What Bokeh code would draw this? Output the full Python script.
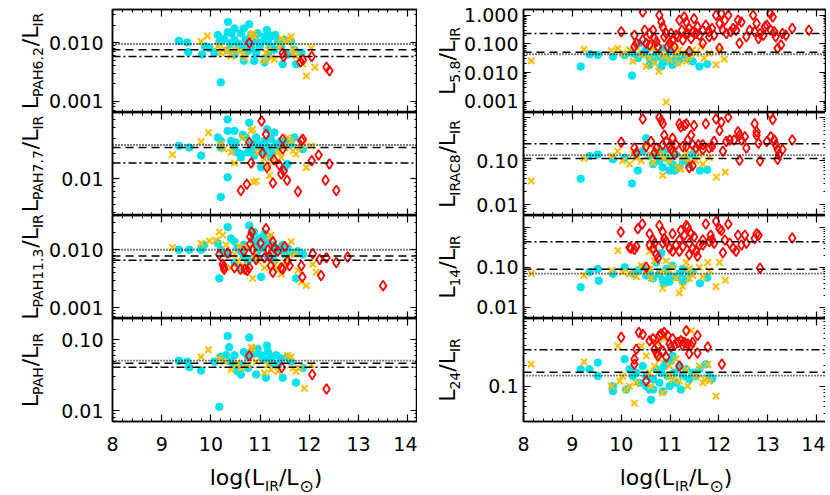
import json
from bokeh.plotting import figure
from bokeh.layouts import row, column
from bokeh.models import (Label, Span, LinearAxis, LogAxis, FixedTicker,
                          CustomJSTickFormatter, Range1d)
from bokeh.embed import file_html
from bokeh.resources import INLINE

# ---------------- data (x = log(L_IR/Lsun), y = ratio) ----------------
# colours: cyan = star-forming, gold = composite, red = AGN
pah62_cyan = [(9.35,0.0108),(9.52,0.0101),(9.54,0.0069),(9.82,0.0063),(9.88,0.0087),(10.14,0.0136),(10.17,0.0101),(10.27,0.0115),(10.35,0.0227),(10.34,0.0151),(10.42,0.0145),(10.48,0.0175),(10.48,0.0112),(10.56,0.0096),(10.61,0.0145),(10.67,0.0175),(10.78,0.0207),(10.82,0.0136),(10.85,0.0105),(10.90,0.0120),(10.95,0.0145),(11.01,0.0099),(11.09,0.0127),(11.14,0.0165),(11.16,0.0105),(11.24,0.0131),(11.31,0.0136),(11.36,0.0105),(11.43,0.0087),(11.51,0.0112),(11.63,0.0105),(11.70,0.0076),(11.84,0.0067),(11.73,0.0043),(11.46,0.0043),(11.09,0.0046),(10.88,0.0049),(10.67,0.0049),(10.48,0.0063),(10.20,0.0021),(10.75,0.0072),(10.92,0.0067),(11.16,0.0063),(11.29,0.0076),(10.54,0.0076),(10.65,0.0081),(10.71,0.0112),(10.41,0.0099),(10.34,0.0076),(10.07,0.0067),(9.97,0.0081),(11.56,0.0063),(11.22,0.0087),(10.99,0.0087),(10.82,0.0081)]
pah62_gold = [(9.80,0.0105),(9.93,0.0131),(10.14,0.0087),(10.20,0.0067),(10.27,0.0078),(10.34,0.0072),(10.41,0.0059),(10.48,0.0076),(10.58,0.0072),(10.65,0.0063),(10.69,0.0055),(10.82,0.0136),(10.85,0.0145),(10.88,0.0127),(11.12,0.0067),(11.16,0.0076),(11.09,0.0049),(11.22,0.0055),(11.29,0.0052),(11.39,0.0087),(11.43,0.0118),(11.53,0.0105),(11.60,0.0112),(11.63,0.0127),(11.67,0.0076),(11.70,0.0067),(11.73,0.0059),(11.84,0.0049),(11.87,0.0043),(11.94,0.0027),(12.04,0.0081),(12.11,0.0038)]
pah62_red = [(10.78,0.0099),(11.46,0.0067),(11.48,0.0058),(11.82,0.0047),(11.87,0.0051),(12.05,0.0058),(12.35,0.0038),(12.41,0.0033)]

pah77_cyan = [(9.35,0.0244),(9.56,0.0233),(9.80,0.0187),(10.14,0.0305),(10.20,0.0233),(10.34,0.0498),(10.34,0.0365),(10.41,0.0279),(10.48,0.0365),(10.50,0.0267),(10.54,0.0204),(10.61,0.0195),(10.65,0.0328),(10.71,0.0305),(10.78,0.0455),(10.82,0.0255),(10.85,0.0223),(10.92,0.0305),(10.95,0.0255),(11.02,0.0233),(11.09,0.0279),(11.14,0.0381),(11.16,0.0233),(11.22,0.0292),(11.26,0.0204),(11.33,0.0255),(11.36,0.0223),(11.43,0.0279),(11.50,0.0136),(11.56,0.0149),(11.63,0.0255),(11.70,0.0305),(11.87,0.0223),(10.34,0.0104),(10.20,0.0061),(11.02,0.0136),(10.61,0.0178),(10.75,0.0204),(10.88,0.0187),(11.09,0.0195),(11.22,0.0178),(11.39,0.0233),(10.48,0.0233),(10.20,0.0279),(11.29,0.0349),(11.53,0.0267)]
pah77_gold = [(9.22,0.0192),(9.80,0.0274),(9.95,0.0348),(10.20,0.0255),(10.27,0.0223),(10.41,0.0204),(10.48,0.0153),(10.65,0.0305),(10.82,0.0365),(10.85,0.0381),(10.87,0.0091),(10.92,0.0094),(11.09,0.0171),(11.16,0.0136),(11.19,0.0109),(11.36,0.0204),(11.50,0.0233),(11.56,0.0305),(11.63,0.0279),(11.67,0.0213),(11.73,0.0195),(11.80,0.0233),(11.87,0.0255),(11.94,0.0136),(12.04,0.0244),(10.95,0.0204),(11.26,0.0163),(11.43,0.0178)]
pah77_red = [(10.61,0.0073),(10.73,0.0086),(10.78,0.0267),(10.82,0.0153),(11.03,0.0477),(11.05,0.0199),(11.12,0.0333),(11.14,0.0136),(11.26,0.0089),(11.28,0.0167),(11.39,0.0145),(11.43,0.0114),(11.48,0.0123),(11.46,0.0292),(11.46,0.0223),(11.55,0.0096),(11.77,0.0071),(11.84,0.0279),(11.87,0.0292),(12.05,0.0163),(12.19,0.0190),(12.33,0.0096),(12.41,0.0149),(12.55,0.0073)]

pah113_cyan = [(9.35,0.0100),(9.56,0.0100),(9.80,0.0100),(9.86,0.0121),(10.14,0.0129),(10.17,0.0032),(10.20,0.0100),(10.34,0.0245),(10.41,0.0156),(10.48,0.0138),(10.54,0.0107),(10.61,0.0094),(10.67,0.0121),(10.78,0.0261),(10.85,0.0147),(10.92,0.0121),(10.99,0.0156),(11.05,0.0107),(11.12,0.0138),(11.19,0.0167),(11.26,0.0121),(11.33,0.0094),(11.39,0.0107),(11.46,0.0121),(11.56,0.0107),(11.67,0.0088),(11.73,0.0032),(11.02,0.0034),(10.61,0.0049),(10.75,0.0064),(10.88,0.0073),(11.16,0.0077),(11.29,0.0064),(10.48,0.0060),(10.95,0.0094),(11.50,0.0083),(11.77,0.0094),(11.87,0.0083),(10.34,0.0083),(10.67,0.0077),(10.88,0.0202),(11.09,0.0189)]
pah113_gold = [(9.22,0.0109),(9.80,0.0129),(9.97,0.0141),(10.10,0.0147),(10.17,0.0202),(10.24,0.0178),(10.31,0.0121),(10.41,0.0049),(10.54,0.0064),(10.58,0.0114),(10.65,0.0053),(10.75,0.0107),(10.85,0.0032),(10.95,0.0064),(11.09,0.0049),(11.19,0.0167),(11.22,0.0178),(11.29,0.0056),(11.36,0.0044),(11.43,0.0038),(11.50,0.0060),(11.56,0.0073),(11.63,0.0138),(11.70,0.0083),(11.77,0.0044),(11.84,0.0028),(11.94,0.0024),(12.07,0.0056),(12.14,0.0041),(10.48,0.0083),(10.88,0.0083),(10.67,0.0044)]
pah113_red = [(10.17,0.0083),(10.24,0.0056),(10.26,0.0051),(10.27,0.0046),(10.34,0.0088),(10.48,0.0049),(10.60,0.0046),(10.67,0.0094),(10.69,0.0046),(10.74,0.0044),(10.78,0.0049),(10.80,0.0126),(10.80,0.0167),(10.83,0.0202),(10.85,0.0100),(10.92,0.0068),(11.09,0.0073),(11.12,0.0230),(11.16,0.0100),(11.19,0.0077),(11.22,0.0053),(11.26,0.0041),(11.29,0.0107),(11.36,0.0094),(11.43,0.0049),(11.46,0.0046),(11.50,0.0114),(11.56,0.0064),(11.60,0.0053),(11.84,0.0053),(11.86,0.0034),(12.07,0.0085),(12.21,0.0068),(12.24,0.0036),(12.35,0.0073),(12.55,0.0060),(12.78,0.0075),(13.50,0.0024),(11.01,0.0129),(11.26,0.0138)]

pah_cyan = [(9.35,0.0507),(9.52,0.0490),(9.56,0.0410),(9.80,0.0367),(10.07,0.0490),(10.17,0.0113),(10.31,0.0605),(10.34,0.1130),(10.37,0.0786),(10.41,0.0490),(10.48,0.0442),(10.54,0.0359),(10.61,0.0323),(10.67,0.0672),(10.75,0.0574),(10.78,0.1076),(10.85,0.0746),(10.88,0.0638),(10.95,0.0746),(11.02,0.0605),(11.09,0.0517),(11.14,0.0828),(11.16,0.0672),(11.22,0.0574),(11.26,0.0466),(11.33,0.0605),(11.43,0.0545),(11.46,0.0291),(11.56,0.0574),(11.73,0.0249),(11.87,0.0398),(10.92,0.0323),(11.12,0.0291),(10.75,0.0398),(10.61,0.0442),(10.48,0.0605),(10.20,0.0574),(11.36,0.0442),(11.63,0.0490)]
pah_gold = [(9.80,0.0574),(9.95,0.0723),(10.17,0.0545),(10.27,0.0490),(10.41,0.0378),(10.54,0.0466),(10.61,0.0398),(10.82,0.0786),(10.85,0.0746),(11.09,0.0340),(11.16,0.0442),(11.22,0.0378),(11.36,0.0359),(11.56,0.0605),(11.63,0.0574),(11.67,0.0398),(11.73,0.0359),(11.80,0.0398),(11.90,0.0206),(12.04,0.0442),(10.92,0.0490),(10.75,0.0442)]
pah_red = [(10.78,0.0593),(11.44,0.0407),(12.06,0.0323),(12.35,0.0201)]

l58_cyan = [(9.17,0.0163),(9.35,0.0435),(9.52,0.0413),(9.83,0.0363),(10.07,0.0413),(10.22,0.0078),(10.24,0.0470),(10.34,0.0318),(10.44,0.0470),(10.51,0.0616),(10.58,0.0318),(10.65,0.0245),(10.72,0.0470),(10.78,0.0363),(10.85,0.0213),(10.92,0.0318),(10.99,0.0245),(11.05,0.0187),(11.12,0.0363),(11.19,0.0278),(11.26,0.0413),(11.33,0.0318),(11.39,0.0470),(11.46,0.0245),(11.60,0.0163),(11.76,0.0197),(10.99,0.0540),(10.85,0.0700),(10.37,0.1050),(10.58,0.0187),(10.82,0.0163),(11.09,0.0213)]
l58_gold = [(8.16,0.0258),(9.24,0.0650),(9.80,0.0580),(9.93,0.0700),(10.03,0.0470),(10.17,0.0616),(10.31,0.0800),(10.41,0.0413),(10.51,0.0163),(10.58,0.0318),(10.65,0.0700),(10.77,0.0109),(10.82,0.0470),(10.88,0.0363),(10.92,0.00093),(10.99,0.0278),(11.05,0.0914),(11.09,0.0413),(11.16,0.0213),(11.26,0.0470),(11.33,0.0245),(11.39,0.0363),(11.46,0.0616),(11.53,0.0470),(11.63,0.0800),(11.70,0.0318),(11.80,0.0470),(11.94,0.0187),(12.01,0.0616),(12.11,0.0292),(10.68,0.0213),(11.19,0.0616),(10.24,0.0245)]
l58_red = [(10.00,0.265),(10.27,0.203),(10.44,1.30),(10.48,0.303),(10.44,0.137),(10.31,0.105),(10.27,0.080),(10.58,0.232),(10.65,0.303),(10.68,0.156),(10.72,0.120),(10.78,1.00),(10.82,0.588),(10.85,0.395),(10.88,0.178),(10.92,0.232),(10.99,0.105),(11.05,0.137),(11.09,0.080),(11.12,0.203),(11.19,0.671),(11.24,0.303),(11.29,0.876),(11.33,0.588),(11.36,0.232),(11.39,0.346),(11.43,0.156),(11.46,0.265),(11.49,0.767),(11.53,0.232),(11.56,0.395),(11.60,0.203),(11.67,0.303),(11.73,0.451),(11.80,0.265),(11.86,0.346),(11.90,0.203),(11.94,1.00),(12.01,0.515),(12.05,1.14),(12.08,0.303),(12.12,0.671),(12.15,0.232),(12.19,1.00),(12.24,0.265),(12.29,0.346),(12.35,0.303),(12.39,0.671),(12.42,0.105),(12.46,0.588),(12.56,0.178),(12.70,1.00),(12.73,0.265),(12.77,0.515),(12.81,0.156),(12.84,0.232),(12.94,0.395),(12.98,0.451),(13.05,1.14),(13.06,0.303),(13.10,0.876),(13.13,0.265),(13.16,0.178),(13.20,0.0703),(13.27,0.0914),(13.30,0.232),(13.37,0.203),(13.50,0.346),(13.84,0.303),(10.51,0.105),(10.58,0.0914),(10.75,0.080),(11.02,0.232),(11.16,0.178),(11.26,0.137),(11.39,0.054),(11.67,0.105),(11.80,0.178),(12.01,0.0703),(10.95,0.080),(11.33,0.232),(12.63,0.303),(12.91,0.203)]

irac8_cyan = [(9.17,0.039),(9.35,0.129),(9.52,0.141),(9.83,0.109),(10.07,0.118),(10.22,0.0303),(10.34,0.060),(10.31,0.141),(10.44,0.167),(10.51,0.330),(10.58,0.129),(10.65,0.084),(10.72,0.141),(10.78,0.100),(10.85,0.071),(10.92,0.118),(10.99,0.060),(11.05,0.084),(11.12,0.141),(11.19,0.071),(11.26,0.100),(11.33,0.118),(11.39,0.084),(11.46,0.141),(11.61,0.060),(11.76,0.063),(10.99,0.182),(10.85,0.167),(11.09,0.060)]
irac8_gold = [(8.16,0.0347),(9.24,0.113),(9.80,0.129),(9.93,0.167),(10.03,0.100),(10.17,0.084),(10.31,0.118),(10.41,0.100),(10.51,0.234),(10.58,0.141),(10.65,0.092),(10.85,0.0464),(10.82,0.141),(10.88,0.118),(10.99,0.100),(11.05,0.167),(11.16,0.071),(11.22,0.065),(11.26,0.118),(11.33,0.141),(11.39,0.092),(11.53,0.100),(11.60,0.141),(11.67,0.084),(11.80,0.118),(11.95,0.0426),(12.13,0.0551),(10.72,0.182),(11.05,0.278),(10.24,0.141)]
irac8_red = [(10.00,0.269),(10.27,0.198),(10.31,0.153),(10.44,0.92),(10.51,0.215),(10.61,0.278),(10.68,0.153),(10.72,0.198),(10.78,1.00),(10.82,0.84),(10.85,0.71),(10.88,0.39),(10.92,0.278),(10.99,0.215),(11.02,0.182),(11.05,0.33),(11.12,0.234),(11.19,0.71),(11.22,0.60),(11.26,0.215),(11.29,0.65),(11.33,0.71),(11.36,0.30),(11.39,0.071),(11.43,0.39),(11.46,0.234),(11.49,0.65),(11.53,0.198),(11.58,0.234),(11.67,0.182),(11.73,0.71),(11.80,0.198),(11.86,0.215),(11.90,0.278),(11.94,0.92),(12.01,0.50),(12.05,0.77),(12.08,0.167),(12.15,0.278),(12.19,1.00),(12.22,0.30),(12.31,0.30),(12.39,0.465),(12.42,0.39),(12.46,0.30),(12.53,0.36),(12.56,0.198),(12.42,0.103),(12.73,0.71),(12.77,0.465),(12.77,0.39),(12.81,0.255),(12.84,0.100),(12.98,0.278),(13.05,1.19),(13.10,0.89),(13.06,0.36),(13.13,0.30),(13.16,0.234),(13.20,0.109),(13.23,0.141),(13.30,0.182),(13.50,0.30),(13.20,0.182),(10.85,0.234),(11.09,0.141),(11.33,0.215),(11.46,0.077),(11.67,0.234)]

l14_cyan = [(9.17,0.032),(9.35,0.076),(9.52,0.091),(9.54,0.046),(9.83,0.069),(10.07,0.100),(10.24,0.069),(10.34,0.083),(10.44,0.100),(10.51,0.063),(10.58,0.076),(10.65,0.053),(10.72,0.132),(10.78,0.069),(10.85,0.048),(10.92,0.091),(10.99,0.063),(11.05,0.110),(11.12,0.058),(11.19,0.069),(11.26,0.091),(11.33,0.053),(11.39,0.069),(11.46,0.076),(11.61,0.040),(11.76,0.055),(10.82,0.229),(10.88,0.040),(10.99,0.044),(11.26,0.044),(10.31,0.076)]
l14_gold = [(8.16,0.070),(9.24,0.063),(9.80,0.083),(9.93,0.260),(10.03,0.076),(10.17,0.069),(10.31,0.058),(10.41,0.110),(10.51,0.076),(10.58,0.250),(10.61,0.053),(10.68,0.145),(10.82,0.076),(10.85,0.030),(10.99,0.083),(11.05,0.100),(11.12,0.053),(11.19,0.023),(11.26,0.033),(11.33,0.132),(11.39,0.091),(11.46,0.063),(11.60,0.100),(11.67,0.058),(11.77,0.132),(11.80,0.083),(11.94,0.033),(12.01,0.132),(12.13,0.048),(10.92,0.145),(11.39,0.053),(10.58,0.091)]
l14_red = [(9.99,0.76),(10.17,0.31),(10.27,0.28),(10.31,0.33),(10.34,0.91),(10.43,1.20),(10.51,0.10),(10.58,0.69),(10.65,0.48),(10.68,0.40),(10.72,0.21),(10.75,0.17),(10.78,1.10),(10.85,0.76),(10.88,0.52),(10.92,0.44),(10.99,0.30),(11.05,0.69),(11.12,0.36),(11.19,0.48),(11.22,0.83),(11.26,0.33),(11.29,0.63),(11.33,1.10),(11.36,1.00),(11.39,0.40),(11.43,0.69),(11.46,0.30),(11.49,0.58),(11.53,0.25),(11.56,0.19),(11.60,0.36),(11.67,0.48),(11.73,1.20),(11.80,0.44),(11.83,0.63),(11.90,0.40),(11.94,1.40),(12.01,0.91),(12.05,0.83),(12.08,0.23),(12.12,0.48),(12.19,1.20),(12.22,0.40),(12.29,0.30),(12.35,0.25),(12.39,0.63),(12.46,0.36),(12.53,0.63),(12.56,0.40),(12.73,0.52),(12.77,0.69),(12.81,0.63),(12.84,0.095),(13.50,0.54),(10.58,0.36),(10.65,0.30),(10.85,0.40),(11.05,0.25),(11.19,0.25),(11.39,0.21),(11.67,0.36),(11.86,0.48),(10.20,0.30)]

l24_cyan = [(9.17,0.177),(9.35,0.177),(9.52,0.223),(9.52,0.141),(9.83,0.084),(9.83,0.100),(10.07,0.250),(10.17,0.177),(10.31,0.158),(10.37,0.112),(10.44,0.198),(10.51,0.141),(10.58,0.089),(10.61,0.063),(10.65,0.126),(10.72,0.177),(10.78,0.112),(10.85,0.084),(10.92,0.223),(10.95,0.141),(10.99,0.100),(11.05,0.280),(11.09,0.158),(11.12,0.112),(11.19,0.198),(11.22,0.089),(11.26,0.141),(11.33,0.177),(11.39,0.126),(11.46,0.158),(11.53,0.141),(11.60,0.177),(11.73,0.210),(11.80,0.141),(11.86,0.129),(10.88,0.198),(11.02,0.236),(10.82,0.158),(10.65,0.089),(10.51,0.100),(10.24,0.141),(10.10,0.089)]
l24_gold = [(8.16,0.210),(9.24,0.228),(9.80,0.100),(9.93,0.390),(9.97,0.119),(10.10,0.089),(10.17,0.100),(10.27,0.056),(10.31,0.112),(10.41,0.390),(10.51,0.280),(10.58,0.158),(10.61,0.100),(10.68,0.198),(10.72,0.440),(10.78,0.250),(10.85,0.080),(10.88,0.500),(10.99,0.141),(11.05,0.126),(11.12,0.250),(11.19,0.119),(11.26,0.470),(11.33,0.177),(11.36,0.100),(11.43,0.660),(11.53,0.141),(11.60,0.198),(11.67,0.112),(11.70,0.126),(11.77,0.210),(11.80,0.119),(11.94,0.071),(10.03,0.141),(10.99,0.198)]
l24_red = [(10.00,0.53),(10.27,0.25),(10.31,0.35),(10.27,0.21),(10.36,0.62),(10.44,0.58),(10.51,0.119),(10.65,0.50),(10.68,0.35),(10.72,0.31),(10.75,0.28),(10.78,0.56),(10.82,0.59),(10.85,0.33),(10.88,0.62),(10.92,0.27),(10.95,0.56),(10.99,0.42),(11.05,0.50),(11.09,0.40),(11.16,0.44),(11.19,0.198),(11.22,0.47),(11.26,0.40),(11.29,0.44),(11.33,0.66),(11.36,0.42),(11.39,0.30),(11.43,0.40),(11.46,0.44),(11.56,0.56),(11.77,0.38),(12.06,0.21),(10.58,0.47),(10.75,0.40),(11.02,0.38),(11.56,0.31)]

# reference levels per panel: (dotted, dashed, dash-dot)
pah62_lines = (0.0095, 0.0076, 0.0058)
pah77_lines = (0.0249, 0.0233, 0.0153)
pah113_lines = (0.0100, 0.0078, 0.0066)
pah_lines = (0.0507, 0.0466, 0.0410)
l58_lines = (0.0435, 0.051, 0.232)
irac8_lines = (0.136, 0.113, 0.247)
l14_lines = (0.070, 0.089, 0.437)
l24_lines = (0.143, 0.160, 0.345)

# y ranges and labelled ticks
pah62_range = (0.00064, 0.037); pah62_ticks = [(0.001, "0.001"), (0.01, "0.010")]
pah77_range = (0.0037, 0.060);  pah77_ticks = [(0.01, "0.01")]
pah113_range = (0.00065, 0.039); pah113_ticks = [(0.001, "0.001"), (0.01, "0.010")]
pah_range = (0.0070, 0.20);     pah_ticks = [(0.01, "0.01"), (0.1, "0.10")]
l58_range = (0.00040, 1.6);     l58_ticks = [(0.001, "0.001"), (0.01, "0.010"), (0.1, "0.100"), (1.0, "1.000")]
irac8_range = (0.0056, 1.29);   irac8_ticks = [(0.01, "0.01"), (0.1, "0.10")]
l14_range = (0.0053, 1.96);     l14_ticks = [(0.01, "0.01"), (0.1, "0.10")]
l24_range = (0.030, 1.0);       l24_ticks = [(0.1, "0.1")]

x_ticks = [8, 9, 10, 11, 12, 13, 14]
left_subs = ["PAH6.2", "PAH7.7", "PAH11.3", "PAH"]
right_subs = ["5.8", "IRAC8", "14", "24"]

# ---------------- styling / layout constants ----------------
CYAN = "#00E3EE"
GOLD = "#FFBF00"
RED = "#FF0000"
FONT = "DejaVu Sans"
B = 22   # big title font
S = 14   # subscript font
FRAME_W = (305, 303)
FRAME_H = 103
TOP = 9
BOTTOM_AX = 40
TOTAL_H = 494
YT_W = (44, 44)        # widths of y-title strips
PANEL_LB = (68, 61)    # left borders of panels
Y_STANDOFF = (9, 5)
YT_BASE = (30, 30)     # baseline x of y titles inside the strips
XT_H = TOTAL_H - (TOP + 4 * FRAME_H + BOTTOM_AX)

W = {'L': .557, 'P': .603, 'A': .684, 'H': .752, 'I': .295, 'R': .695, 'C': .698,
     '/': .337, '.': .318, 'l': .278, 'o': .612, 'g': .635, '(': .390, ')': .390,
     '\u2299': .838}
def tw(s, size):
    return sum(W.get(c, .636) for c in s) * size

def minor_list(lo, hi):
    out = []
    for e in range(-5, 2):
        for m in range(2, 10):
            v = m * 10.0 ** e
            if lo <= v <= hi:
                out.append(v)
    return out

def fmt(pairs):
    return CustomJSTickFormatter(code="const L = %s; for (const p of L) { if (Math.abs(tick - p[0]) <= 1e-6 * p[0]) return p[1]; } return '';" % json.dumps([[v, s] for v, s in pairs]))

def style_axis(ax, show_labels):
    ax.major_tick_in = 7
    ax.major_tick_out = 0
    ax.minor_tick_in = 3
    ax.minor_tick_out = 0
    ax.axis_line_width = 1.5
    ax.major_tick_line_width = 1.2
    ax.minor_tick_line_width = 1
    ax.major_label_text_font = FONT
    if show_labels:
        ax.major_label_text_font_size = "19px"
        ax.major_label_text_color = "black"
    else:
        ax.formatter = CustomJSTickFormatter(code="return '';")
        ax.major_label_text_font_size = "0.1px"
        ax.major_label_standoff = 0

def strip(w, h):
    f = figure(width=w, height=h, x_range=Range1d(0, w), y_range=Range1d(h, 0),
               min_border=0, x_axis_location=None, y_axis_location=None,
               output_backend="svg", toolbar_location=None)
    f.grid.visible = False
    f.outline_line_color = None
    return f

def panel(rng, ticks, lines, cyan, gold, red, col, ridx):
    lo, hi = rng
    bottom = ridx == 3
    fig = figure(x_range=Range1d(8, 14.2), y_range=Range1d(lo, hi), y_axis_type="log",
                 frame_width=FRAME_W[col], frame_height=FRAME_H,
                 min_border_left=PANEL_LB[col], min_border_right=0,
                 min_border_top=TOP if ridx == 0 else 0,
                 min_border_bottom=BOTTOM_AX if bottom else 0,
                 output_backend="svg", toolbar_location=None,
                 background_fill_color="white", border_fill_color="white")
    fig.xgrid.visible = False
    fig.ygrid.visible = False
    fig.outline_line_color = "black"
    fig.outline_line_width = 1.5

    xmin = [round(8 + 0.2 * i, 1) for i in range(32) if round(8 + 0.2 * i, 1) not in x_ticks]
    labelled = [v for v, _ in ticks]
    major_y = labelled + [v for v in (1e-4, 1e-3, 1e-2, 1e-1, 1.0) if lo <= v <= hi and v not in labelled]
    ymin = minor_list(lo, hi)

    xa = fig.xaxis[0]
    xa.ticker = FixedTicker(ticks=x_ticks, minor_ticks=xmin)
    style_axis(xa, bottom)
    if bottom:
        xa.major_label_standoff = 15
    ya = fig.yaxis[0]
    ya.ticker = FixedTicker(ticks=major_y, minor_ticks=ymin)
    ya.formatter = fmt(ticks)
    style_axis(ya, True)
    ya.major_label_standoff = Y_STANDOFF[col]

    top_ax = LinearAxis(ticker=FixedTicker(ticks=x_ticks, minor_ticks=xmin))
    style_axis(top_ax, False)
    fig.add_layout(top_ax, "above")
    right_ax = LogAxis(ticker=FixedTicker(ticks=major_y, minor_ticks=ymin))
    style_axis(right_ax, False)
    fig.add_layout(right_ax, "right")

    for val, dash, lw in zip(lines, ("1 2", "8 5", "8 3 2 3"), (1.8, 1.5, 1.5)):
        fig.add_layout(Span(location=val, dimension="width", line_color="black",
                            line_dash=dash, line_width=lw))

    fig.scatter([p[0] for p in cyan], [p[1] for p in cyan], marker="circle", size=7.5,
                fill_color=CYAN, line_color=CYAN)
    fig.scatter([p[0] for p in gold], [p[1] for p in gold], marker="x", size=9,
                line_color=GOLD, line_width=2)
    fig.scatter([p[0] for p in red], [p[1] for p in red], marker="diamond", size=10,
                fill_color=None, line_color=RED, line_width=1.8)
    return fig

def ytitle_strip(col, subs):
    f = strip(YT_W[col], TOTAL_H)
    bx = YT_BASE[col]
    for i, sub in enumerate(subs):
        pieces = [("L", B, 0), (sub, S, 1), ("/", B, 0), ("L", B, 0), ("IR", S, 1)]
        total = sum(tw(t, s) for t, s, _ in pieces)
        yc = TOP + FRAME_H * i + FRAME_H / 2
        cur = yc + total / 2
        for t, s, sb in pieces:
            f.add_layout(Label(x=bx + (7 if sb else 0), y=cur, text=t, angle=90,
                               angle_units="deg", text_font=FONT,
                               text_font_size="%dpx" % s, text_baseline="alphabetic",
                               text_align="left", text_color="black"))
            cur -= tw(t, s)
    return f

def xtitle_strip(col):
    # same horizontal frame as the panels above, so x=11.1 is the panel centre
    f = figure(frame_width=FRAME_W[col], frame_height=XT_H,
               x_range=Range1d(8, 14.2), y_range=Range1d(XT_H, 0),
               min_border_left=PANEL_LB[col], min_border_right=0,
               min_border_top=0, min_border_bottom=0,
               x_axis_location=None, y_axis_location=None,
               output_backend="svg", toolbar_location=None)
    f.grid.visible = False
    f.outline_line_color = None
    xp = [("log(L", B, 0), ("IR", S, 1), ("/L", B, 0), ("\u2299", 17, 1), (")", B, 0)]
    total = sum(tw(t, s) for t, s, _ in xp)
    cur = -total / 2
    for t, s, sb in xp:
        f.add_layout(Label(x=11.1, y=24 if sb else 16, x_offset=cur, text=t, text_font=FONT,
                           text_font_size="%dpx" % s, text_baseline="alphabetic",
                           text_align="left", text_color="black"))
        cur += tw(t, s) + (1 if t.endswith("L") else 0)
    return f

left_panels = [
    panel(pah62_range, pah62_ticks, pah62_lines, pah62_cyan, pah62_gold, pah62_red, 0, 0),
    panel(pah77_range, pah77_ticks, pah77_lines, pah77_cyan, pah77_gold, pah77_red, 0, 1),
    panel(pah113_range, pah113_ticks, pah113_lines, pah113_cyan, pah113_gold, pah113_red, 0, 2),
    panel(pah_range, pah_ticks, pah_lines, pah_cyan, pah_gold, pah_red, 0, 3),
]
right_panels = [
    panel(l58_range, l58_ticks, l58_lines, l58_cyan, l58_gold, l58_red, 1, 0),
    panel(irac8_range, irac8_ticks, irac8_lines, irac8_cyan, irac8_gold, irac8_red, 1, 1),
    panel(l14_range, l14_ticks, l14_lines, l14_cyan, l14_gold, l14_red, 1, 2),
    panel(l24_range, l24_ticks, l24_lines, l24_cyan, l24_gold, l24_red, 1, 3),
]

left_group = row(ytitle_strip(0, left_subs),
                 column(*left_panels, xtitle_strip(0), spacing=0), spacing=0)
right_group = row(ytitle_strip(1, right_subs),
                  column(*right_panels, xtitle_strip(1), spacing=0), spacing=0)
layout = row(left_group, right_group, spacing=0)
open("out.html", "w").write(file_html(layout, INLINE))
